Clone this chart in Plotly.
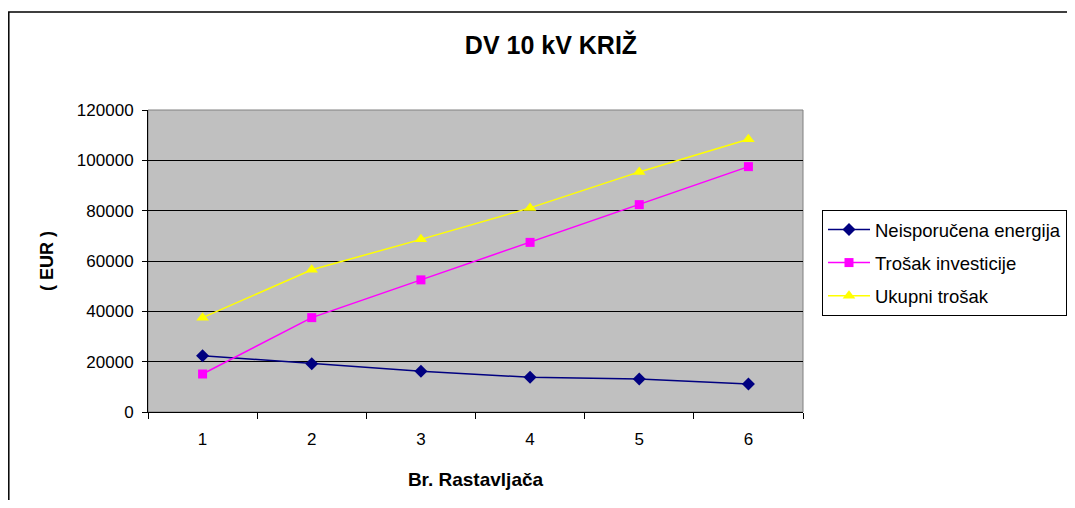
import plotly.graph_objects as go

x_vals = [1, 2, 3, 4, 5, 6]
x_labels = ["1", "2", "3", "4", "5", "6"]
neisporucena = [22400, 19200, 16200, 13800, 13100, 11100]
investicija = [15100, 37500, 52500, 67400, 82400, 97500]
ukupni = [37500, 56500, 68600, 81100, 95400, 108400]
y_ticks = [0, 20000, 40000, 60000, 80000, 100000, 120000]

FONT = "Liberation Sans, Arial, sans-serif"
OFF = 8  # page body margin offset

fig = go.Figure()
fig.add_trace(go.Scatter(x=x_vals, y=neisporucena, name="Neisporučena energija",
                         legendgroup="a",
                         mode="lines+markers", line=dict(color="#000080", width=1.5),
                         marker=dict(symbol="diamond", size=10, color="#000080")))
fig.add_trace(go.Scatter(x=x_vals, y=investicija, name="Trošak investicije",
                         legendgroup="b",
                         mode="lines+markers", line=dict(color="#FF00FF", width=1.5),
                         marker=dict(symbol="square", size=9, color="#FF00FF")))
fig.add_trace(go.Scatter(x=x_vals, y=ukupni, name="Ukupni trošak",
                         legendgroup="c",
                         mode="lines+markers", line=dict(color="#FFFF00", width=1.5),
                         marker=dict(symbol="triangle-up", size=11, color="#FFFF00")))

W, H = 1075 - 2 * OFF, 508 - 2 * OFF
L, R, T, B = 148 - OFF, 803 - OFF, 110 - OFF, 412 - OFF
pw, ph = R - L, B - T

def px(x):
    return (x - OFF - L) / pw

def py(y):
    return (B - (y - OFF)) / ph

fig.update_layout(
    width=W, height=H,
    margin=dict(l=L, r=W - R, t=T, b=H - B),
    paper_bgcolor="white",
    plot_bgcolor="#C0C0C0",
    font=dict(family=FONT, size=17, color="black"),
    title=dict(text="<b>DV 10 kV KRIŽ</b>", x=(551 - OFF) / W, xanchor="center",
               y=1 - (45 - OFF) / H, yanchor="middle", font=dict(size=25, family=FONT)),
    xaxis=dict(range=[0.5, 6.5], tickmode="array", tickvals=x_vals, ticktext=x_labels,
               ticks="", showgrid=False, zeroline=False, showline=True,
               linecolor="black", linewidth=1, ticklabelstandoff=12,
               minor=dict(tickmode="array", tickvals=[0.5, 1.5, 2.5, 3.5, 4.5, 5.5, 6.5],
                          ticks="outside", ticklen=6, tickcolor="black", showgrid=False),
               title=dict(text="<b>Br. Rastavljača</b>", font=dict(size=19), standoff=24),
               tickfont=dict(size=17)),
    yaxis=dict(range=[0, 120000], tickmode="array", tickvals=y_ticks,
               ticktext=[str(v) for v in y_ticks],
               ticks="outside", ticklen=5, tickcolor="black", ticklabelstandoff=5,
               showgrid=True, gridcolor="black", gridwidth=1, zeroline=False,
               showline=True, linecolor="black", linewidth=1,
               title=dict(text="<b>( EUR )</b>", font=dict(size=18), standoff=18),
               tickfont=dict(size=17)),
    legend=dict(xref="container", yref="container",
                x=(822 - OFF) / W, y=1 - (210 - OFF) / H, xanchor="left", yanchor="top",
                bgcolor="white", bordercolor="black", borderwidth=1,
                font=dict(size=18.5, family=FONT), tracegroupgap=6,
                itemwidth=42),
    showlegend=True,
)

shapes = [
    dict(type="rect", xref="paper", yref="paper", x0=0, x1=1, y0=0, y1=1,
         line=dict(color="#808080", width=1), layer="below"),
    dict(type="rect", xref="paper", yref="paper", x0=(0.8 - L) / pw, x1=px(1090),
         y0=py(12), y1=py(530),
         line=dict(color="black", width=1.5), fillcolor="rgba(0,0,0,0)"),
]
fig.update_layout(shapes=shapes)

fig.write_html("out.html")
